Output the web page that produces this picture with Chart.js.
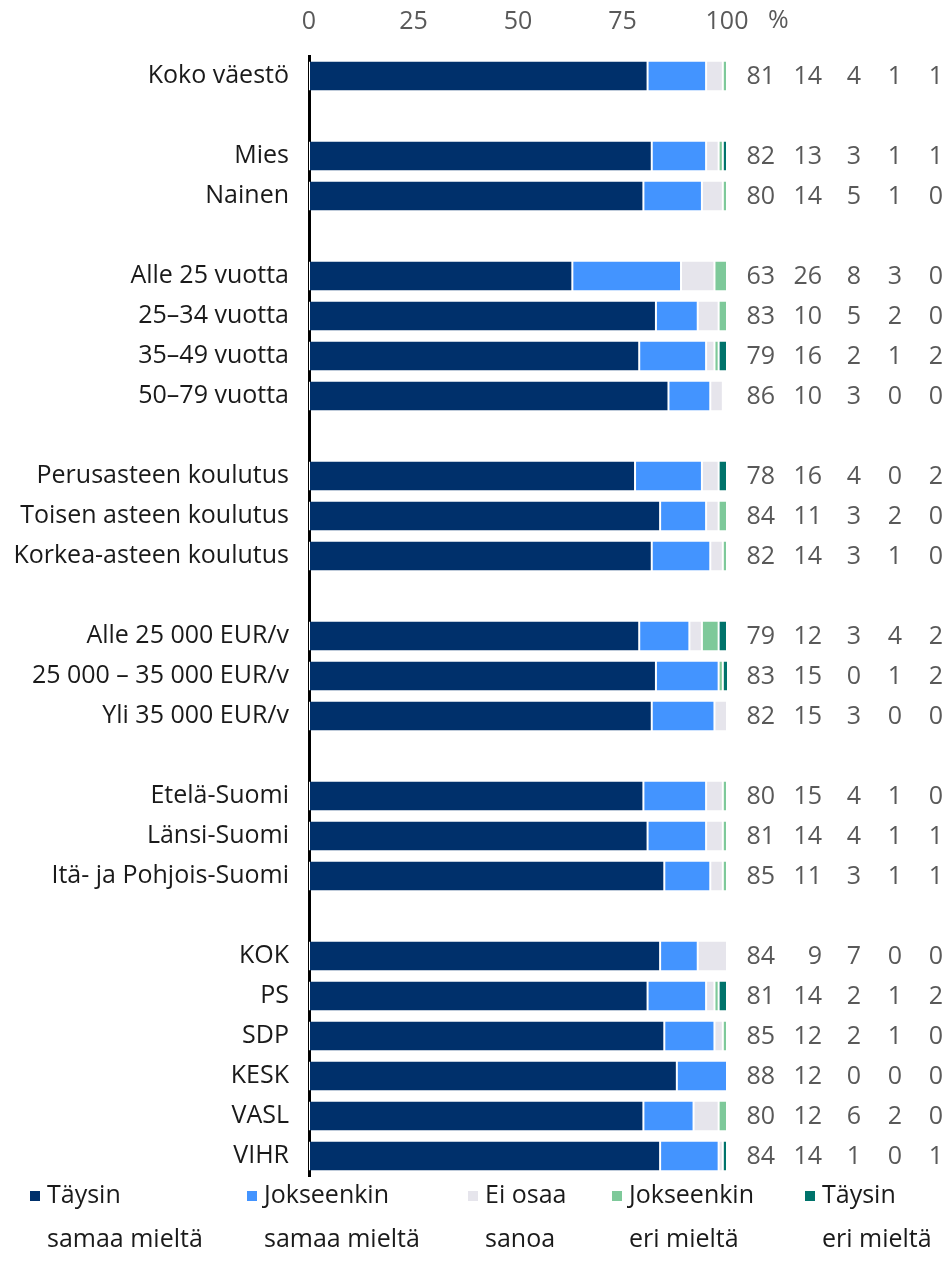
<!DOCTYPE html>
<html>
<head>
<meta charset="utf-8">
<script src="https://cdn.jsdelivr.net/npm/chart.js@4"></script>
<style>
  body { margin: 0; background: #fff; }
  #wrap { width: 947px; height: 1267px; }
</style>
</head>
<body>
<div id="wrap"><canvas id="chart" width="947" height="1267"></canvas></div>
<script>
// data //
const categories = [
  'Koko väestö', '',
  'Mies', 'Nainen', '',
  'Alle 25 vuotta', '25–34 vuotta', '35–49 vuotta', '50–79 vuotta', '',
  'Perusasteen koulutus', 'Toisen asteen koulutus', 'Korkea-asteen koulutus', '',
  'Alle 25 000 EUR/v', '25 000 – 35 000 EUR/v', 'Yli 35 000 EUR/v', '',
  'Etelä-Suomi', 'Länsi-Suomi', 'Itä- ja Pohjois-Suomi', '',
  'KOK', 'PS', 'SDP', 'KESK', 'VASL', 'VIHR'
];
const N = null;
const taysinSamaa = [81, N, 82, 80, N, 63, 83, 79, 86, N, 78, 84, 82, N, 79, 83, 82, N, 80, 81, 85, N, 84, 81, 85, 88, 80, 84];
const jokseenkinSamaa = [14, N, 13, 14, N, 26, 10, 16, 10, N, 16, 11, 14, N, 12, 15, 15, N, 15, 14, 11, N, 9, 14, 12, 12, 12, 14];
const eiOsaa = [4, N, 3, 5, N, 8, 5, 2, 3, N, 4, 3, 3, N, 3, 0, 3, N, 4, 4, 3, N, 7, 2, 2, 0, 6, 1];
const jokseenkinEri = [1, N, 1, 1, N, 3, 2, 1, 0, N, 0, 2, 1, N, 4, 1, 0, N, 1, 1, 1, N, 0, 1, 1, 0, 2, 0];
const taysinEri = [1, N, 1, 0, N, 0, 0, 2, 0, N, 2, 0, 0, N, 2, 2, 0, N, 0, 1, 1, N, 0, 2, 0, 0, 0, 1];
const xTicks = [0, 25, 50, 75, 100];

const series = [taysinSamaa, jokseenkinSamaa, eiOsaa, jokseenkinEri, taysinEri];
const seriesNames = [
  ['Täysin', 'samaa mieltä'],
  ['Jokseenkin', 'samaa mieltä'],
  ['Ei osaa', 'sanoa'],
  ['Jokseenkin', 'eri mieltä'],
  ['Täysin', 'eri mieltä']
];
const colors = ['#00306B', '#4394FF', '#E6E5EC', '#7EC99A', '#00736B'];

// layout bits //
const FONT = '"Open Sans", sans-serif';
const FSIZE = 25;
const colRight = [48, 95, 134, 175, 216];   // offsets from chart right edge
const legendX = [30, 247, 468, 612, 805];

const valueColumns = {
  id: 'valueColumns',
  afterDraw(chart) {
    const c = chart.ctx;
    const area = chart.chartArea;
    const y = chart.scales.y;
    const x = chart.scales.x;
    c.save();
    c.font = FSIZE + 'px ' + FONT;
    c.fillStyle = '#595959';
    c.textAlign = 'right';
    c.textBaseline = 'middle';
    categories.forEach((cat, i) => {
      if (!cat) return;
      const py = y.getPixelForValue(i) + 1;
      series.forEach((s, k) => {
        c.fillText(String(s[i]), area.right + colRight[k], py);
      });
    });
    // percent sign next to the axis ticks
    c.textAlign = 'left';
    c.fillText('%', x.getPixelForValue(100) + 41, 21);
    // legend
    seriesNames.forEach((lines, k) => {
      c.fillStyle = colors[k];
      c.fillRect(legendX[k], 1191, 10, 10);
      c.fillStyle = '#1a1a1a';
      c.fillText(lines[0], legendX[k] + 17, 1196);
      c.fillText(lines[1], legendX[k] + 17, 1240);
    });
    c.restore();
  }
};

new Chart(document.getElementById('chart'), {
  type: 'bar',
  data: {
    labels: categories,
    datasets: series.map((s, k) => ({
      label: seriesNames[k].join(' '),
      data: s,
      backgroundColor: colors[k],
      borderColor: '#ffffff',
      borderWidth: { left: 1, right: 1, top: 0, bottom: 0 },
      borderSkipped: false,
      barPercentage: 0.72,
      categoryPercentage: 1
    }))
  },
  options: {
    indexAxis: 'y',
    responsive: false,
    animation: false,
    devicePixelRatio: 1,
    layout: { padding: { left: 0, right: 220, top: 0, bottom: 91 } },
    plugins: {
      legend: { display: false },
      tooltip: { enabled: false }
    },
    scales: {
      x: {
        position: 'top',
        stacked: true,
        min: 0,
        max: 100,
        grid: { display: false, drawTicks: false },
        border: { display: false },
        afterBuildTicks: s => { s.ticks = xTicks.map(v => ({ value: v })); },
        ticks: { color: '#595959', font: { family: FONT, size: FSIZE }, padding: 19, maxRotation: 0 },
        afterFit: s => { s.height = 56; }
      },
      y: {
        stacked: true,
        grid: { display: false, drawTicks: false },
        border: { display: true, color: '#000', width: 3 },
        ticks: { color: '#1a1a1a', font: { family: FONT, size: FSIZE }, padding: 20, autoSkip: false },
        afterFit: s => { s.width = 309; }
      }
    }
  },
  plugins: [valueColumns]
});
</script>
</body>
</html>
